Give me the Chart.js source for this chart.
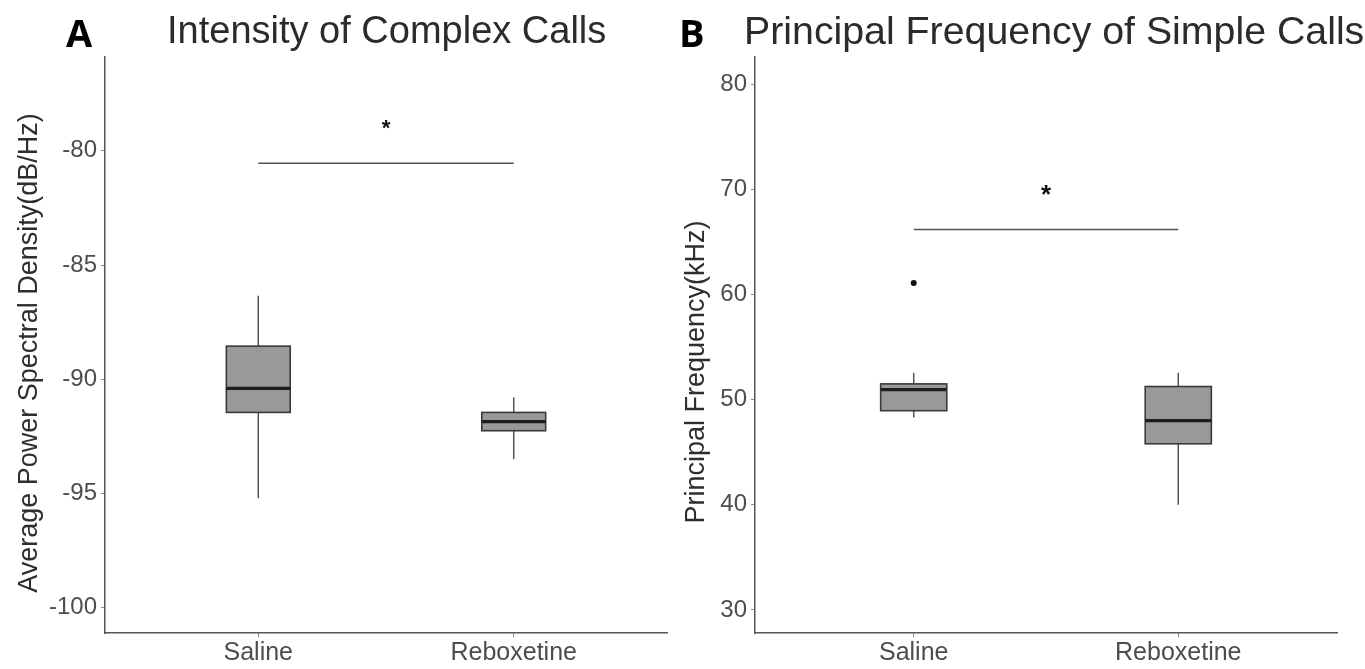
<!DOCTYPE html>
<html>
<head>
<meta charset="utf-8">
<script src="https://cdn.jsdelivr.net/npm/chart.js@4.4.1/dist/chart.umd.min.js"></script>
<style>
  body { margin: 0; background: #fff; width: 1365px; height: 669px; overflow: hidden; position: relative; font-family: "Liberation Sans", Arial, sans-serif; }
  .panel { position: absolute; top: 0; height: 669px; }
  .tag { position: absolute; top: 6px; font: bold 38px "Open Sans", "Liberation Sans", sans-serif; color: #000; }
  .title { position: absolute; top: 7px; line-height: 46px; font-family: "Liberation Sans", Arial, sans-serif; color: #2b2b2b; white-space: nowrap; }
</style>
</head>
<body>
<div class="panel" style="left:0;width:680px"><canvas id="chartA"></canvas></div>
<div class="panel" style="left:680px;width:685px"><canvas id="chartB"></canvas></div>
<div class="tag" style="left:66px">A</div>
<div class="tag" style="left:679px">B</div>
<div class="title" style="left:167px;font-size:38px">Intensity of Complex Calls</div>
<div class="title" style="left:744px;font-size:39.3px">Principal Frequency of Simple Calls</div>
<script>
// groups on the x axis
const groups = ['Saline', 'Reboxetine'];

// A: intensity of complex calls (dB/Hz)
const intensityWhiskerLow = [-95.2, -93.5];
const intensityQ1 = [-91.45, -92.25];
const intensityMedian = [-90.4, -91.85];
const intensityQ3 = [-88.55, -91.45];
const intensityWhiskerHigh = [-86.35, -90.8];
const intensityTicks = [-100, -95, -90, -85, -80];
const intensitySig = { from: 1, to: 2, y: -80.55, starY: -78.8 };

// B: principal frequency of simple calls (kHz)
const freqWhiskerLow = [48.3, 40.0];
const freqQ1 = [48.95, 45.8];
const freqMedian = [50.95, 48.0];
const freqQ3 = [51.5, 51.25];
const freqWhiskerHigh = [52.55, 52.55];
const freqOutliers = [{ x: 1, y: 61.1 }];
const freqTicks = [30, 40, 50, 60, 70, 80];
const freqSig = { from: 1, to: 2, y: 66.2, starY: 70.0 };

const BOX_WIDTH = 0.25;
const FONT = '"Liberation Sans", Arial, sans-serif';

// draws boxes, whiskers and the significance bracket from the stats arrays
const boxPlugin = {
  id: 'boxes',
  afterDatasetsDraw(chart, args, opts) {
    const { ctx, scales: { x, y } } = chart;
    ctx.save();
    groups.forEach((g, i) => {
      const cx = x.getPixelForValue(i + 1);
      const left = x.getPixelForValue(i + 1 - BOX_WIDTH / 2);
      const right = x.getPixelForValue(i + 1 + BOX_WIDTH / 2);
      const yLo = y.getPixelForValue(opts.low[i]);
      const yQ1 = y.getPixelForValue(opts.q1[i]);
      const yMed = y.getPixelForValue(opts.med[i]);
      const yQ3 = y.getPixelForValue(opts.q3[i]);
      const yHi = y.getPixelForValue(opts.high[i]);

      ctx.strokeStyle = '#555';
      ctx.lineWidth = 1.5;
      ctx.beginPath();
      ctx.moveTo(cx, yHi); ctx.lineTo(cx, yQ3);
      ctx.moveTo(cx, yQ1); ctx.lineTo(cx, yLo);
      ctx.stroke();

      ctx.fillStyle = '#999999';
      ctx.fillRect(left, yQ3, right - left, yQ1 - yQ3);
      ctx.strokeStyle = '#3a3a3a';
      ctx.lineWidth = 1.6;
      ctx.strokeRect(left, yQ3, right - left, yQ1 - yQ3);

      ctx.strokeStyle = '#1e1e1e';
      ctx.lineWidth = 3.2;
      ctx.beginPath();
      ctx.moveTo(left, yMed); ctx.lineTo(right, yMed);
      ctx.stroke();
    });

    const sig = opts.sig;
    const sy = y.getPixelForValue(sig.y);
    ctx.strokeStyle = '#555';
    ctx.lineWidth = 1.5;
    ctx.beginPath();
    ctx.moveTo(x.getPixelForValue(sig.from), sy);
    ctx.lineTo(x.getPixelForValue(sig.to), sy);
    ctx.stroke();

    ctx.fillStyle = '#111';
    ctx.font = 'bold ' + opts.starSize + 'px ' + FONT;
    ctx.textAlign = 'center';
    ctx.textBaseline = 'middle';
    ctx.fillText('*', x.getPixelForValue((sig.from + sig.to) / 2), y.getPixelForValue(sig.starY) + opts.starSize * 0.25);
    ctx.restore();
  }
};

// rotated y axis title, placed a little lower than the scale's own title would be
const yTitlePlugin = {
  id: 'yTitle',
  afterDraw(chart, args, opts) {
    const ctx = chart.ctx;
    ctx.save();
    ctx.translate(opts.x, opts.y);
    ctx.rotate(-Math.PI / 2);
    ctx.fillStyle = '#2e2e2e';
    ctx.font = '27px ' + FONT;
    ctx.textAlign = 'center';
    ctx.textBaseline = 'middle';
    ctx.fillText(opts.text, 0, 0);
    ctx.restore();
  }
};

function makeChart(id, cfg) {
  return new Chart(document.getElementById(id), {
    type: 'scatter',
    data: {
      datasets: [{
        data: cfg.outliers,
        pointRadius: 3,
        pointBackgroundColor: '#111',
        pointBorderWidth: 0
      }]
    },
    options: {
      responsive: true,
      maintainAspectRatio: false,
      animation: false,
      // top padding leaves room for the html title above the plot
      layout: { padding: { left: cfg.padLeft, right: cfg.padRight, top: 57, bottom: 0 } },
      plugins: {
        legend: { display: false },
        tooltip: { enabled: false },
        boxes: {
          low: cfg.low, q1: cfg.q1, med: cfg.med, q3: cfg.q3, high: cfg.high,
          sig: cfg.sig, starSize: cfg.starSize
        },
        yTitle: { text: cfg.yTitle, x: cfg.yTitleX, y: cfg.yTitleY }
      },
      scales: {
        x: {
          type: 'linear',
          min: 0.4,
          max: 2.6,
          afterBuildTicks: s => { s.ticks = groups.map((g, i) => ({ value: i + 1 })); },
          afterFit: s => { s.height = 36; },
          ticks: {
            callback: v => groups[v - 1],
            color: '#4d4d4d',
            padding: 1,
            font: { family: FONT, size: 25 }
          },
          grid: { drawOnChartArea: false, tickLength: 4, color: '#888', tickWidth: 1 },
          border: { display: true, color: '#555', width: 1.5 }
        },
        y: {
          type: 'linear',
          min: cfg.yMin,
          max: cfg.yMax,
          afterBuildTicks: s => { s.ticks = cfg.ticks.map(v => ({ value: v })); },
          afterFit: s => { s.width = cfg.yWidth; },
          ticks: {
            color: '#4d4d4d',
            padding: 4,
            font: { family: FONT, size: 24 }
          },
          grid: { drawOnChartArea: false, tickLength: 4, color: '#888', tickWidth: 1 },
          border: { display: true, color: '#555', width: 1.5 }
        }
      }
    },
    plugins: [boxPlugin, yTitlePlugin]
  });
}

makeChart('chartA', {
  yTitle: 'Average Power Spectral Density(dB/Hz)', yTitleX: 30, yTitleY: 353,
  low: intensityWhiskerLow, q1: intensityQ1, med: intensityMedian, q3: intensityQ3, high: intensityWhiskerHigh,
  outliers: [], ticks: intensityTicks, sig: intensitySig, starSize: 22,
  yMin: -101.1, yMax: -75.9, padLeft: 14, padRight: 13, yWidth: 91
});

makeChart('chartB', {
  yTitle: 'Principal Frequency(kHz)', yTitleX: 17, yTitleY: 372,
  low: freqWhiskerLow, q1: freqQ1, med: freqMedian, q3: freqQ3, high: freqWhiskerHigh,
  outliers: freqOutliers, ticks: freqTicks, sig: freqSig, starSize: 26,
  yMin: 27.8, yMax: 82.6, padLeft: 1, padRight: 28, yWidth: 74
});
</script>
</body>
</html>
